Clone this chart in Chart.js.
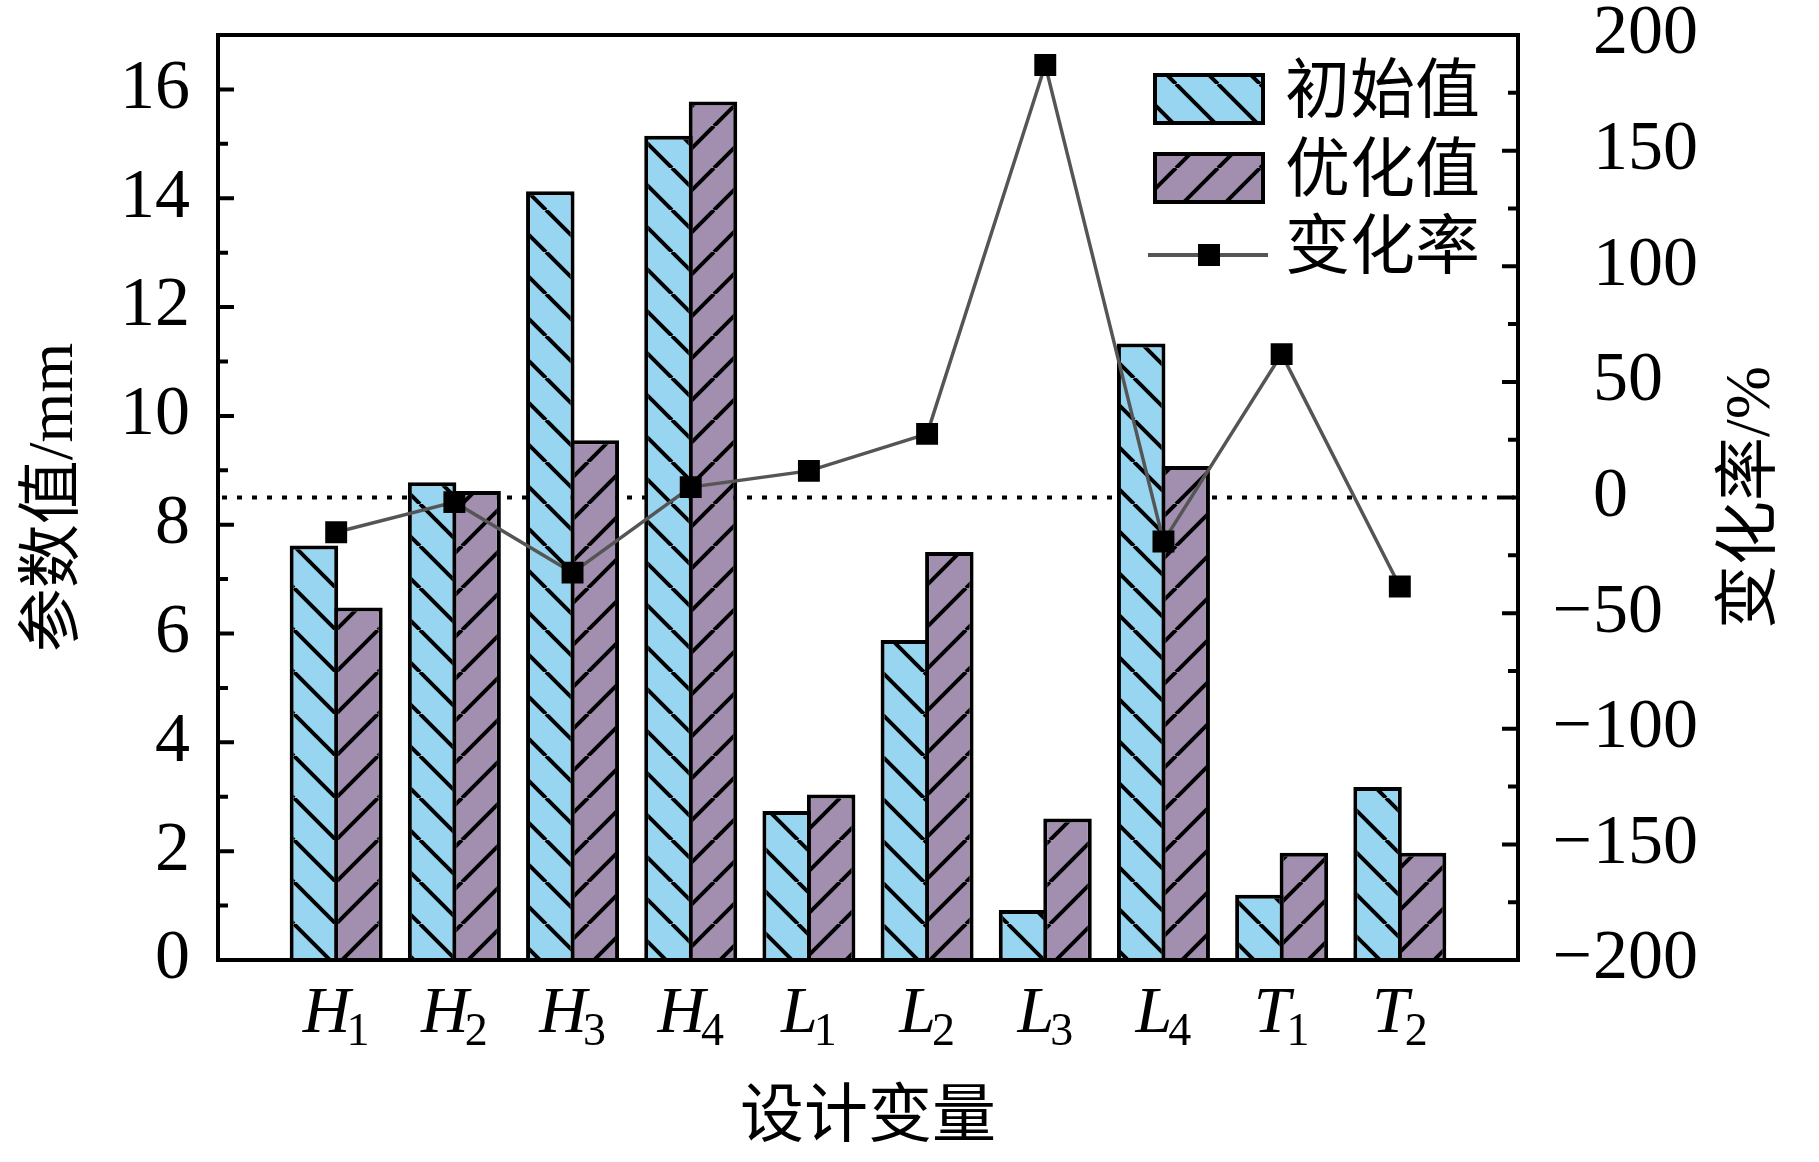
<!DOCTYPE html>
<html>
<head>
<meta charset="utf-8">
<title>设计变量</title>
<script src="https://cdn.jsdelivr.net/npm/chart.js@4.4.0/dist/chart.umd.min.js"></script>
<style>
  html, body { margin: 0; padding: 0; background: #fff; }
  #wrap { width: 1819px; height: 1162px; }
</style>
</head>
<body>
<div id="wrap"><canvas id="chart" width="1819" height="1162"></canvas></div>
<script>
// data
var categories = ['H1', 'H2', 'H3', 'H4', 'L1', 'L2', 'L3', 'L4', 'T1', 'T2'];
var initialValues = [7.62, 8.78, 14.13, 15.15, 2.74, 5.88, 0.92, 11.33, 1.20, 3.18];
var optimizedValues = [6.48, 8.62, 9.55, 15.78, 3.04, 7.50, 2.60, 9.08, 1.97, 1.97];
var changeRates = [-15, -2, -32.5, 4.5, 11.5, 27.5, 187, -19, 62, -38.5];
var leftTicks = [0, 2, 4, 6, 8, 10, 12, 14, 16];
var rightTicks = [-200, -150, -100, -50, 0, 50, 100, 150, 200];
var seriesNames = ['初始值', '优化值', '变化率'];

var serif = "'Liberation Serif', 'Times New Roman', serif";
var cjk = "'Liberation Serif', 'Noto Sans CJK SC', sans-serif";
var blue = '#97d5f1';
var purple = '#a28fb0';

// one empty slot on each side so the groups sit like in the figure
var labels = [''].concat(categories, ['']);
function pad(arr) { return [null].concat(arr, [null]); }

function hatch(color, dir) {
  var P = 42;
  var c = document.createElement('canvas');
  c.width = P; c.height = P;
  var g = c.getContext('2d');
  g.fillStyle = color;
  g.fillRect(0, 0, P, P);
  g.strokeStyle = '#000';
  g.lineWidth = 4;
  g.beginPath();
  for (var k = -1; k <= 1; k++) {
    if (dir === 'back') {
      g.moveTo(k * P, 0); g.lineTo(k * P + P, P);
    } else {
      g.moveTo(k * P, P); g.lineTo(k * P + P, 0);
    }
  }
  g.stroke();
  return g.createPattern(c, 'repeat');
}

var ctx0 = document.getElementById('chart').getContext('2d');
var blueHatch = hatch(blue, 'back');
var purpleHatch = hatch(purple, 'fwd');

var decor = {
  id: 'decor',
  beforeDatasetsDraw: function (chart) {
    var ctx = chart.ctx, a = chart.chartArea;
    var yz = chart.scales.y2.getPixelForValue(0);
    ctx.save();
    ctx.strokeStyle = '#000';
    ctx.lineWidth = 4;
    ctx.setLineDash([5, 10]);
    ctx.beginPath();
    ctx.moveTo(a.left + 4, yz);
    ctx.lineTo(a.right - 4, yz);
    ctx.stroke();
    ctx.restore();
  },
  afterDatasetsDraw: function (chart) {
    var ctx = chart.ctx, a = chart.chartArea;
    var y = chart.scales.y, y2 = chart.scales.y2;
    ctx.save();
    ctx.strokeStyle = '#000';
    ctx.lineWidth = 4;
    ctx.strokeRect(a.left, a.top, a.right - a.left, a.bottom - a.top);
    ctx.beginPath();
    var v, p;
    for (v = 1; v <= 16; v++) {
      p = y.getPixelForValue(v);
      ctx.moveTo(a.left, p);
      ctx.lineTo(a.left + (v % 2 === 0 ? 16 : 10), p);
    }
    for (v = -175; v <= 175; v += 25) {
      p = y2.getPixelForValue(v);
      ctx.moveTo(a.right, p);
      ctx.lineTo(a.right - (v % 50 === 0 ? 16 : 10), p);
    }
    ctx.stroke();
    ctx.restore();
  },
  afterDraw: function (chart) {
    var ctx = chart.ctx, a = chart.chartArea;
    var x = chart.scales.x, y = chart.scales.y, y2 = chart.scales.y2;
    ctx.save();
    ctx.fillStyle = '#000';

    // left tick labels
    ctx.font = '70px ' + serif;
    ctx.textAlign = 'right';
    ctx.textBaseline = 'middle';
    leftTicks.forEach(function (t) {
      ctx.fillText(String(t), a.left - 28, y.getPixelForValue(t));
    });

    // right tick labels, digits left aligned, minus hanging in front
    rightTicks.forEach(function (t) {
      var p = y2.getPixelForValue(t);
      ctx.textAlign = 'left';
      ctx.fillText(String(Math.abs(t)), a.right + 75, p);
      if (t < 0) {
        ctx.textAlign = 'right';
        ctx.fillText('\u2212', a.right + 74, p);
      }
    });

    // category labels with subscripts
    ctx.textBaseline = 'alphabetic';
    ctx.textAlign = 'left';
    categories.forEach(function (c, i) {
      var cx = x.getPixelForValue(i + 1);
      var letter = c.charAt(0), sub = c.slice(1);
      ctx.font = 'italic 66px ' + serif;
      var wl = ctx.measureText(letter).width;
      ctx.font = '46px ' + serif;
      var ws = ctx.measureText(sub).width;
      var x0 = cx - (wl + ws - 4) / 2;
      ctx.font = 'italic 66px ' + serif;
      ctx.fillText(letter, x0, a.bottom + 72);
      ctx.font = '46px ' + serif;
      ctx.fillText(sub, x0 + wl - 4, a.bottom + 85);
    });

    // axis titles
    ctx.textAlign = 'center';
    ctx.textBaseline = 'middle';
    ctx.font = '64px ' + cjk;
    ctx.fillText('设计变量', (a.left + a.right) / 2, 1119);

    ctx.save();
    ctx.translate(55, (a.top + a.bottom) / 2);
    ctx.rotate(-Math.PI / 2);
    ctx.fillText('参数值/mm', 0, 0);
    ctx.restore();

    ctx.save();
    ctx.translate(1752, (a.top + a.bottom) / 2);
    ctx.rotate(-Math.PI / 2);
    ctx.fillText('变化率/%', 0, 0);
    ctx.restore();

    // legend
    var lx = 1155, bw = 108, bh = 48;
    var rows = [99, 178, 255];
    ctx.lineWidth = 4;
    ctx.strokeStyle = '#000';
    [blueHatch, purpleHatch].forEach(function (pat, i) {
      ctx.fillStyle = pat;
      ctx.fillRect(lx, rows[i] - bh / 2, bw, bh);
      ctx.strokeRect(lx, rows[i] - bh / 2, bw, bh);
    });
    ctx.strokeStyle = '#555';
    ctx.beginPath();
    ctx.moveTo(lx - 7, rows[2]);
    ctx.lineTo(lx + bw + 5, rows[2]);
    ctx.stroke();
    ctx.fillStyle = '#000';
    ctx.fillRect(lx + bw / 2 - 11, rows[2] - 11, 22, 22);

    ctx.font = '65px ' + cjk;
    ctx.textAlign = 'left';
    ctx.textBaseline = 'middle';
    seriesNames.forEach(function (n, i) {
      ctx.fillText(n, 1285, rows[i] - 4);
    });
    ctx.restore();
  }
};

var chart = new Chart(ctx0, {
  data: {
    labels: labels,
    datasets: [
      {
        type: 'line',
        label: seriesNames[2],
        data: pad(changeRates),
        yAxisID: 'y2',
        order: 0,
        borderColor: '#555',
        borderWidth: 3.5,
        pointStyle: 'rect',
        pointRadius: 15.5,
        pointBackgroundColor: '#000',
        pointBorderWidth: 0,
        tension: 0
      },
      {
        type: 'bar',
        label: seriesNames[0],
        data: pad(initialValues),
        yAxisID: 'y',
        order: 1,
        backgroundColor: blueHatch,
        borderColor: '#000',
        borderWidth: 4,
        categoryPercentage: 0.753,
        barPercentage: 1.09
      },
      {
        type: 'bar',
        label: seriesNames[1],
        data: pad(optimizedValues),
        yAxisID: 'y',
        order: 1,
        backgroundColor: purpleHatch,
        borderColor: '#000',
        borderWidth: 4,
        categoryPercentage: 0.753,
        barPercentage: 1.09
      }
    ]
  },
  options: {
    responsive: false,
    animation: false,
    devicePixelRatio: 1,
    layout: { padding: { left: 218, right: 301, top: 35, bottom: 202 } },
    plugins: { legend: { display: false }, tooltip: { enabled: false } },
    scales: {
      x: { type: 'category', offset: false, display: false },
      y: { type: 'linear', position: 'left', min: 0, max: 17, display: false },
      y2: { type: 'linear', position: 'right', min: -200, max: 200, display: false }
    }
  },
  plugins: [decor]
});

// redraw once the local fonts are surely in
if (document.fonts) {
  Promise.all([
    document.fonts.load('70px "Liberation Serif"'),
    document.fonts.load('italic 66px "Liberation Serif"'),
    document.fonts.load('64px "Noto Sans CJK SC"', '设计变量')
  ]).then(function () { chart.draw(); });
}
</script>
</body>
</html>
